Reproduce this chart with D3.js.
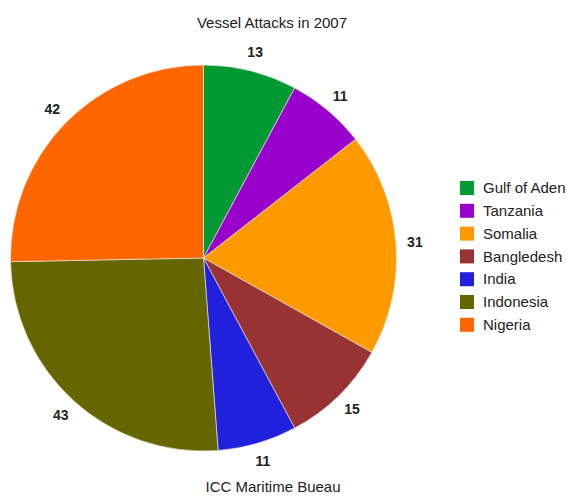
<!DOCTYPE html>
<html>
<head>
<meta charset="utf-8">
<script src="https://cdn.jsdelivr.net/npm/d3@7"></script>
<style>
  body { margin: 0; background: #fff; }
  text { font-family: "Liberation Sans", Arial, sans-serif; }
</style>
</head>
<body>
<svg id="chart"></svg>
<script>
// data
var regions = ["Gulf of Aden", "Tanzania", "Somalia", "Bangledesh", "India", "Indonesia", "Nigeria"];
var attacks = [13, 11, 31, 15, 11, 43, 42];
var colors = ["#009933", "#9900cc", "#ff9900", "#993333", "#2121dd", "#666600", "#ff6600"];

var width = 567, height = 496;
var cx = 203.5, cy = 258, radius = 193, labelR = 212;

var svg = d3.select("#chart")
    .attr("width", width)
    .attr("height", height)
    .style("display", "block");

svg.append("text")
    .attr("x", 272).attr("y", 23)
    .attr("dy", "0.35em")
    .attr("text-anchor", "middle")
    .attr("font-size", 15)
    .attr("fill", "#222")
    .text("Vessel Attacks in 2007");

svg.append("text")
    .attr("x", 273).attr("y", 487)
    .attr("dy", "0.35em")
    .attr("text-anchor", "middle")
    .attr("font-size", 15)
    .attr("fill", "#222")
    .text("ICC Maritime Bueau");

var pie = d3.pie().sort(null).value(function(d){ return d; });
var arcs = pie(attacks);
var arc = d3.arc().innerRadius(0).outerRadius(radius);
var labelArc = d3.arc().innerRadius(labelR).outerRadius(labelR);

var g = svg.append("g")
    .attr("transform", "translate(" + cx + "," + cy + ")");

g.selectAll("path")
    .data(arcs)
    .enter().append("path")
    .attr("d", arc)
    .attr("fill", function(d, i){ return colors[i]; })
    .attr("stroke", "#f4f0e8")
    .attr("stroke-width", 0.6);

g.selectAll(".lbl")
    .data(arcs)
    .enter().append("text")
    .attr("class", "lbl")
    .attr("transform", function(d){ return "translate(" + labelArc.centroid(d) + ")"; })
    .attr("dy", "0.35em")
    .attr("text-anchor", "middle")
    .attr("font-size", 14)
    .attr("font-weight", "bold")
    .attr("fill", "#222")
    .text(function(d){ return d.data; });

// legend
var legend = svg.append("g").attr("transform", "translate(460,181)");
var row = legend.selectAll("g")
    .data(regions)
    .enter().append("g")
    .attr("transform", function(d, i){ return "translate(0," + (i * 22.8) + ")"; });

row.append("rect")
    .attr("width", 14).attr("height", 14)
    .attr("fill", function(d, i){ return colors[i]; });

row.append("text")
    .attr("x", 23).attr("y", 7)
    .attr("dy", "0.35em")
    .attr("font-size", 15)
    .attr("fill", "#222")
    .text(function(d){ return d; });
</script>
</body>
</html>
